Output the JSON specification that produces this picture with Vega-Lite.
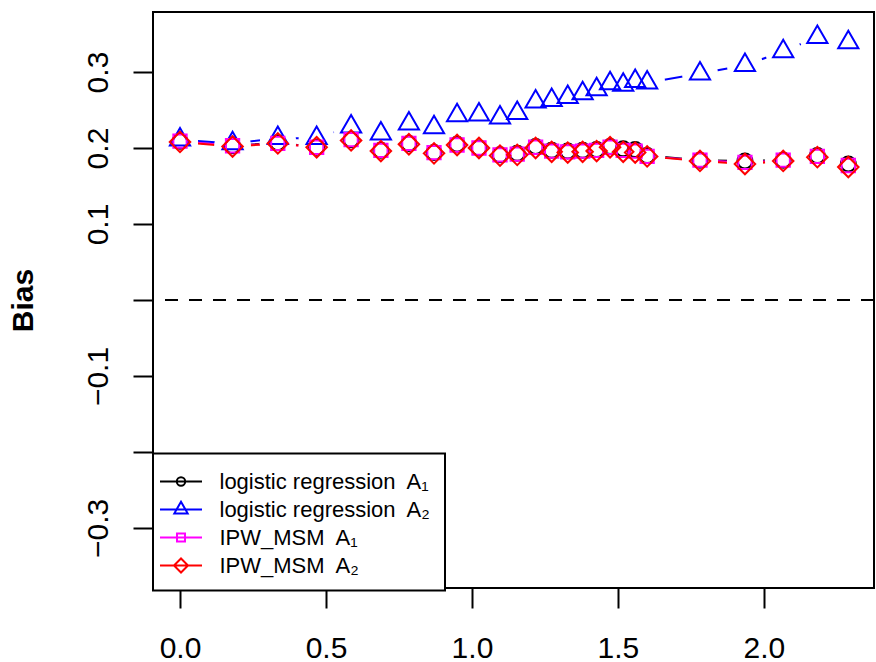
{
  "$schema": "https://vega.github.io/schema/vega-lite/v6.json",
  "width": 721,
  "height": 576,
  "autosize": {"type": "none"},
  "padding": {"left": 153, "top": 12, "right": 2, "bottom": 74},
  "background": "white",
  "config": {
    "view": {"stroke": "black", "strokeWidth": 2},
    "font": "Liberation Sans",
    "axis": {"grid": false, "domain": false, "tickColor": "black", "tickWidth": 2, "tickSize": 20, "labelColor": "black", "labelFont": "Liberation Sans", "labelFontSize": 30, "labelPadding": 25, "titleFont": "Liberation Sans", "titleColor": "black"},
    "legend": {
      "strokeColor": "black", "strokeWidth": 2, "fillColor": "white",
      "padding": 13, "symbolOffset": 0, "labelOffset": 23.5, "rowPadding": 2,
      "labelFont": "Liberation Sans", "labelFontSize": 22, "labelColor": "black", "labelLimit": 500,
      "symbolSize": 740, "symbolStrokeWidth": 2, "symbolFillColor": "transparent", "symbolOpacity": 1, "labelBaseline": "middle"
    }
  },
  "data": {"values": [
    {"x": 0, "bias": 0.209, "series": "logistic regression  A₁"},
    {"x": 0.180, "bias": 0.203, "series": "logistic regression  A₁"},
    {"x": 0.335, "bias": 0.207, "series": "logistic regression  A₁"},
    {"x": 0.468, "bias": 0.201, "series": "logistic regression  A₁"},
    {"x": 0.586, "bias": 0.211, "series": "logistic regression  A₁"},
    {"x": 0.688, "bias": 0.197, "series": "logistic regression  A₁"},
    {"x": 0.784, "bias": 0.206, "series": "logistic regression  A₁"},
    {"x": 0.870, "bias": 0.194, "series": "logistic regression  A₁"},
    {"x": 0.949, "bias": 0.205, "series": "logistic regression  A₁"},
    {"x": 1.024, "bias": 0.200, "series": "logistic regression  A₁"},
    {"x": 1.096, "bias": 0.191, "series": "logistic regression  A₁"},
    {"x": 1.155, "bias": 0.193, "series": "logistic regression  A₁"},
    {"x": 1.218, "bias": 0.202, "series": "logistic regression  A₁"},
    {"x": 1.273, "bias": 0.197, "series": "logistic regression  A₁"},
    {"x": 1.328, "bias": 0.196, "series": "logistic regression  A₁"},
    {"x": 1.379, "bias": 0.197, "series": "logistic regression  A₁"},
    {"x": 1.427, "bias": 0.198, "series": "logistic regression  A₁"},
    {"x": 1.473, "bias": 0.202, "series": "logistic regression  A₁"},
    {"x": 1.518, "bias": 0.199, "series": "logistic regression  A₁"},
    {"x": 1.559, "bias": 0.198, "series": "logistic regression  A₁"},
    {"x": 1.600, "bias": 0.190, "series": "logistic regression  A₁"},
    {"x": 1.781, "bias": 0.184, "series": "logistic regression  A₁"},
    {"x": 1.935, "bias": 0.183, "series": "logistic regression  A₁"},
    {"x": 2.066, "bias": 0.184, "series": "logistic regression  A₁"},
    {"x": 2.183, "bias": 0.190, "series": "logistic regression  A₁"},
    {"x": 2.289, "bias": 0.179, "series": "logistic regression  A₁"},

    {"x": 0, "bias": 0.211, "series": "logistic regression  A₂"},
    {"x": 0.180, "bias": 0.206, "series": "logistic regression  A₂"},
    {"x": 0.335, "bias": 0.213, "series": "logistic regression  A₂"},
    {"x": 0.468, "bias": 0.213, "series": "logistic regression  A₂"},
    {"x": 0.586, "bias": 0.228, "series": "logistic regression  A₂"},
    {"x": 0.688, "bias": 0.219, "series": "logistic regression  A₂"},
    {"x": 0.784, "bias": 0.232, "series": "logistic regression  A₂"},
    {"x": 0.870, "bias": 0.227, "series": "logistic regression  A₂"},
    {"x": 0.949, "bias": 0.243, "series": "logistic regression  A₂"},
    {"x": 1.024, "bias": 0.244, "series": "logistic regression  A₂"},
    {"x": 1.096, "bias": 0.240, "series": "logistic regression  A₂"},
    {"x": 1.155, "bias": 0.246, "series": "logistic regression  A₂"},
    {"x": 1.218, "bias": 0.261, "series": "logistic regression  A₂"},
    {"x": 1.273, "bias": 0.263, "series": "logistic regression  A₂"},
    {"x": 1.328, "bias": 0.267, "series": "logistic regression  A₂"},
    {"x": 1.379, "bias": 0.272, "series": "logistic regression  A₂"},
    {"x": 1.427, "bias": 0.277, "series": "logistic regression  A₂"},
    {"x": 1.473, "bias": 0.285, "series": "logistic regression  A₂"},
    {"x": 1.518, "bias": 0.283, "series": "logistic regression  A₂"},
    {"x": 1.559, "bias": 0.288, "series": "logistic regression  A₂"},
    {"x": 1.600, "bias": 0.286, "series": "logistic regression  A₂"},
    {"x": 1.781, "bias": 0.298, "series": "logistic regression  A₂"},
    {"x": 1.935, "bias": 0.309, "series": "logistic regression  A₂"},
    {"x": 2.066, "bias": 0.327, "series": "logistic regression  A₂"},
    {"x": 2.183, "bias": 0.346, "series": "logistic regression  A₂"},
    {"x": 2.289, "bias": 0.339, "series": "logistic regression  A₂"},

    {"x": 0, "bias": 0.209, "series": "IPW_MSM  A₁"},
    {"x": 0.180, "bias": 0.203, "series": "IPW_MSM  A₁"},
    {"x": 0.335, "bias": 0.206, "series": "IPW_MSM  A₁"},
    {"x": 0.468, "bias": 0.201, "series": "IPW_MSM  A₁"},
    {"x": 0.586, "bias": 0.211, "series": "IPW_MSM  A₁"},
    {"x": 0.688, "bias": 0.197, "series": "IPW_MSM  A₁"},
    {"x": 0.784, "bias": 0.206, "series": "IPW_MSM  A₁"},
    {"x": 0.870, "bias": 0.194, "series": "IPW_MSM  A₁"},
    {"x": 0.949, "bias": 0.204, "series": "IPW_MSM  A₁"},
    {"x": 1.024, "bias": 0.200, "series": "IPW_MSM  A₁"},
    {"x": 1.096, "bias": 0.191, "series": "IPW_MSM  A₁"},
    {"x": 1.155, "bias": 0.192, "series": "IPW_MSM  A₁"},
    {"x": 1.218, "bias": 0.201, "series": "IPW_MSM  A₁"},
    {"x": 1.273, "bias": 0.196, "series": "IPW_MSM  A₁"},
    {"x": 1.328, "bias": 0.195, "series": "IPW_MSM  A₁"},
    {"x": 1.379, "bias": 0.196, "series": "IPW_MSM  A₁"},
    {"x": 1.427, "bias": 0.197, "series": "IPW_MSM  A₁"},
    {"x": 1.473, "bias": 0.201, "series": "IPW_MSM  A₁"},
    {"x": 1.518, "bias": 0.197, "series": "IPW_MSM  A₁"},
    {"x": 1.559, "bias": 0.196, "series": "IPW_MSM  A₁"},
    {"x": 1.600, "bias": 0.189, "series": "IPW_MSM  A₁"},
    {"x": 1.781, "bias": 0.184, "series": "IPW_MSM  A₁"},
    {"x": 1.935, "bias": 0.181, "series": "IPW_MSM  A₁"},
    {"x": 2.066, "bias": 0.184, "series": "IPW_MSM  A₁"},
    {"x": 2.183, "bias": 0.189, "series": "IPW_MSM  A₁"},
    {"x": 2.289, "bias": 0.177, "series": "IPW_MSM  A₁"},

    {"x": 0, "bias": 0.208, "series": "IPW_MSM  A₂"},
    {"x": 0.180, "bias": 0.202, "series": "IPW_MSM  A₂"},
    {"x": 0.335, "bias": 0.206, "series": "IPW_MSM  A₂"},
    {"x": 0.468, "bias": 0.201, "series": "IPW_MSM  A₂"},
    {"x": 0.586, "bias": 0.210, "series": "IPW_MSM  A₂"},
    {"x": 0.688, "bias": 0.196, "series": "IPW_MSM  A₂"},
    {"x": 0.784, "bias": 0.205, "series": "IPW_MSM  A₂"},
    {"x": 0.870, "bias": 0.193, "series": "IPW_MSM  A₂"},
    {"x": 0.949, "bias": 0.204, "series": "IPW_MSM  A₂"},
    {"x": 1.024, "bias": 0.200, "series": "IPW_MSM  A₂"},
    {"x": 1.096, "bias": 0.190, "series": "IPW_MSM  A₂"},
    {"x": 1.155, "bias": 0.191, "series": "IPW_MSM  A₂"},
    {"x": 1.218, "bias": 0.200, "series": "IPW_MSM  A₂"},
    {"x": 1.273, "bias": 0.195, "series": "IPW_MSM  A₂"},
    {"x": 1.328, "bias": 0.194, "series": "IPW_MSM  A₂"},
    {"x": 1.379, "bias": 0.195, "series": "IPW_MSM  A₂"},
    {"x": 1.427, "bias": 0.196, "series": "IPW_MSM  A₂"},
    {"x": 1.473, "bias": 0.201, "series": "IPW_MSM  A₂"},
    {"x": 1.518, "bias": 0.195, "series": "IPW_MSM  A₂"},
    {"x": 1.559, "bias": 0.194, "series": "IPW_MSM  A₂"},
    {"x": 1.600, "bias": 0.189, "series": "IPW_MSM  A₂"},
    {"x": 1.781, "bias": 0.183, "series": "IPW_MSM  A₂"},
    {"x": 1.935, "bias": 0.179, "series": "IPW_MSM  A₂"},
    {"x": 2.066, "bias": 0.183, "series": "IPW_MSM  A₂"},
    {"x": 2.183, "bias": 0.188, "series": "IPW_MSM  A₂"},
    {"x": 2.289, "bias": 0.175, "series": "IPW_MSM  A₂"}
  ]},
  "encoding": {
    "x": {"field": "x", "type": "quantitative",
      "scale": {"domain": [-0.0925, 2.377], "nice": false, "zero": false},
      "axis": {"title": null, "values": [0, 0.5, 1, 1.5, 2], "format": ".1f"}},
    "y": {"field": "bias", "type": "quantitative",
      "scale": {"domain": [-0.379, 0.379], "nice": false, "zero": false},
      "axis": {"title": "Bias", "titleFontSize": 30, "titleFontWeight": "bold", "titleAngle": -90,
        "titleX": -121, "titleY": 288, "titleAlign": "center", "titleBaseline": "alphabetic",
        "values": [-0.3, -0.2, -0.1, 0, 0.1, 0.2, 0.3], "format": ".1f",
        "labelExpr": "(abs(datum.value) < 1e-9 || abs(datum.value + 0.2) < 1e-9) ? '' : datum.label",
        "labelAngle": -90, "labelAlign": "center", "labelBaseline": "alphabetic", "labelPadding": 26}}
  },
  "layer": [
    {"mark": {"type": "rule", "color": "black", "strokeWidth": 2, "strokeDash": [13, 11]},
     "encoding": {"x": null, "y": {"datum": 0, "type": "quantitative"}}},
    {"transform": [{"filter": "datum.series == 'logistic regression  A₁'"}],
     "mark": {"type": "line", "strokeWidth": 2, "color": "#000000"}},
    {"transform": [{"filter": "datum.series == 'logistic regression  A₂'"}],
     "mark": {"type": "line", "strokeWidth": 2, "color": "#0000FF"}},
    {"transform": [{"filter": "datum.series == 'IPW_MSM  A₁'"}],
     "mark": {"type": "line", "strokeWidth": 2, "color": "#FF00FF"}},
    {"transform": [{"filter": "datum.series == 'IPW_MSM  A₂'"}],
     "mark": {"type": "line", "strokeWidth": 2, "color": "#FF0000"}},
    {"mark": {"type": "point", "shape": "circle", "size": 1296, "filled": true, "fill": "white", "opacity": 1, "strokeWidth": 0}},
    {"transform": [{"filter": "datum.series == 'logistic regression  A₁'"}],
     "mark": {"type": "point", "shape": "circle", "size": 225, "filled": false, "stroke": "#000000", "strokeWidth": 2, "opacity": 1}},
    {"transform": [{"filter": "datum.series == 'logistic regression  A₂'"}],
     "mark": {"type": "point", "shape": "M0,-1.155L1,0.577L-1,0.577Z", "size": 408, "filled": false, "stroke": "#0000FF", "strokeWidth": 2, "opacity": 1}},
    {"transform": [{"filter": "datum.series == 'IPW_MSM  A₁'"}],
     "mark": {"type": "point", "shape": "square", "size": 177, "filled": false, "stroke": "#FF00FF", "strokeWidth": 2, "opacity": 1}},
    {"transform": [{"filter": "datum.series == 'IPW_MSM  A₂'"}],
     "mark": {"type": "point", "shape": "diamond", "size": 420, "filled": false, "stroke": "#FF0000", "strokeWidth": 2, "opacity": 1}},
    {"mark": {"type": "point", "filled": false, "size": 740, "strokeWidth": 2, "opacity": 0},
     "encoding": {
       "color": {"field": "series", "type": "nominal",
         "scale": {"domain": ["logistic regression  A₁", "logistic regression  A₂", "IPW_MSM  A₁", "IPW_MSM  A₂"],
                   "range": ["#000000", "#0000FF", "#FF00FF", "#FF0000"]},
         "legend": {"title": null, "orient": "none", "legendX": 0, "legendY": 441.5, "symbolOpacity": 1,
                    "labelExpr": "replace(datum.label, '  ', '\u00a0 ')"}},
       "shape": {"field": "series", "type": "nominal",
         "scale": {"domain": ["logistic regression  A₁", "logistic regression  A₂", "IPW_MSM  A₁", "IPW_MSM  A₂"],
                   "range": [
                     "M-1.544,0L1.544,0M0.309,0A0.309,0.309,0,1,1,-0.309,0A0.309,0.309,0,1,1,0.309,0",
                     "M-1.544,0L1.544,0M0,-0.57L0.49,0.285L-0.49,0.285Z",
                     "M-1.544,0L1.544,0M-0.294,-0.294L0.294,-0.294L0.294,0.294L-0.294,0.294Z",
                     "M-1.544,0L1.544,0M-0.515,0L0,-0.515L0.515,0L0,0.515Z"
                   ]},
         "legend": {"title": null, "orient": "none", "legendX": 0, "legendY": 441.5, "symbolOpacity": 1,
                    "labelExpr": "replace(datum.label, '  ', '\u00a0 ')"}}
     }}
  ]
}
